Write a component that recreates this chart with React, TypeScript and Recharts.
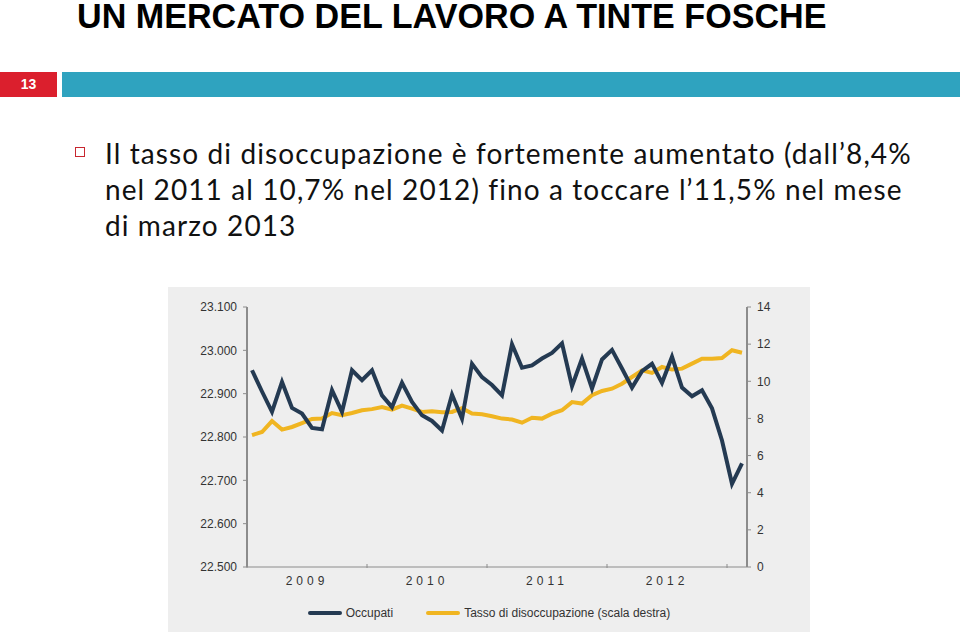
import { Legend, Line, LineChart, XAxis, YAxis } from "recharts";

const months = [
  "gen-09", "feb-09", "mar-09", "apr-09", "mag-09", "giu-09", "lug-09", "ago-09", "set-09", "ott-09", "nov-09", "dic-09",
  "gen-10", "feb-10", "mar-10", "apr-10", "mag-10", "giu-10", "lug-10", "ago-10", "set-10", "ott-10", "nov-10", "dic-10",
  "gen-11", "feb-11", "mar-11", "apr-11", "mag-11", "giu-11", "lug-11", "ago-11", "set-11", "ott-11", "nov-11", "dic-11",
  "gen-12", "feb-12", "mar-12", "apr-12", "mag-12", "giu-12", "lug-12", "ago-12", "set-12", "ott-12", "nov-12", "dic-12",
  "gen-13", "feb-13",
];

// occupati, migliaia
const occupati = [
  22954, 22905, 22858, 22927, 22867, 22854, 22821, 22818, 22908, 22858, 22954, 22931,
  22954, 22896, 22869, 22925, 22881, 22850, 22837, 22815, 22898, 22842, 22969, 22938,
  22920, 22896, 23014, 22960, 22965, 22981, 22994, 23016, 22917, 22981, 22912, 22979,
  23001, 22958, 22914, 22952, 22969, 22925, 22985, 22914, 22894, 22908, 22866, 22792,
  22692, 22739,
];

// tasso di disoccupazione, %
const disoccupazione = [
  7.1, 7.27, 7.86, 7.4, 7.54, 7.75, 7.97, 8.0, 8.29, 8.18, 8.29, 8.44,
  8.5, 8.61, 8.47, 8.69, 8.53, 8.35, 8.38, 8.33, 8.35, 8.55, 8.26, 8.22,
  8.12, 7.99, 7.94, 7.77, 8.04, 7.99, 8.26, 8.44, 8.88, 8.8, 9.25, 9.48,
  9.6, 9.87, 10.23, 10.59, 10.45, 10.77, 10.63, 10.68, 10.95, 11.22, 11.22, 11.25,
  11.67, 11.54,
];

const years = ["2009", "2010", "2011", "2012"];
const leftTicks = [22500, 22600, 22700, 22800, 22900, 23000, 23100];
const rightTicks = [0, 2, 4, 6, 8, 10, 12, 14];

const NAVY = "#243a52";
const GOLD = "#f0b521";
const AXIS = "#8c8c8c";
const TEXT = "#333333";

const data = months.map((m, i) => ({
  m,
  x: i + 0.5,
  occ: occupati[i],
  dis: disoccupazione[i],
}));

// year boundaries (tick marks) and mid-year positions (labels)
const xTicks: number[] = [];
years.forEach((_, i) => {
  xTicks.push(i * 12, i * 12 + 6);
});
xTicks.push(years.length * 12);

const fmtThousands = (v: number) => {
  const s = String(v);
  return s.slice(0, s.length - 3) + "." + s.slice(-3);
};

function YearTick(props: any) {
  const { x, y, payload } = props;
  const v = payload.value as number;
  if (v % 12 === 0) {
    return <line x1={x} x2={x} y1={y - 3} y2={y + 1} stroke={AXIS} strokeWidth={1} />;
  }
  const label = years[Math.floor(v / 12)];
  return (
    <text
      x={x}
      y={y + 18}
      textAnchor="middle"
      fill={TEXT}
      fontSize={12}
      fontFamily="Liberation Sans, Arial, sans-serif"
      letterSpacing={4}
    >
      {label}
    </text>
  );
}

function ChartLegend() {
  const item = (color: string, label: string) => (
    <div style={{ display: "flex", alignItems: "center" }}>
      <div style={{ width: 34, height: 4, borderRadius: 2, background: color, marginRight: 4 }} />
      <span>{label}</span>
    </div>
  );
  return (
    <div
      style={{
        height: 20,
        display: "flex",
        justifyContent: "center",
        alignItems: "center",
        gap: 33,
        fontFamily: "Liberation Sans, Arial, sans-serif",
        fontSize: 12,
        color: TEXT,
      }}
    >
      {item(NAVY, "Occupati")}
      {item(GOLD, "Tasso di disoccupazione (scala destra)")}
    </div>
  );
}

export default function App() {
  return (
    <div
      style={{
        position: "absolute",
        left: 0,
        top: 0,
        width: 960,
        height: 632,
        background: "#ffffff",
        overflow: "hidden",
      }}
    >
      <div
        style={{
          position: "absolute",
          left: 77,
          top: 0,
          fontFamily: "Liberation Sans, Arial, sans-serif",
          fontWeight: 700,
          fontSize: 35,
          lineHeight: "32px",
          color: "#000",
          whiteSpace: "nowrap",
          transform: "scaleX(0.975)",
          transformOrigin: "0 0",
        }}
      >
        UN MERCATO DEL LAVORO A TINTE FOSCHE
      </div>

      <div
        style={{
          position: "absolute",
          left: 0,
          top: 72,
          width: 57,
          height: 25,
          background: "#db1f2d",
          color: "#fff",
          fontFamily: "Liberation Sans, Arial, sans-serif",
          fontWeight: 700,
          fontSize: 14,
          lineHeight: "25px",
          textAlign: "center",
        }}
      >
        13
      </div>
      <div
        style={{ position: "absolute", left: 62, top: 72, width: 898, height: 25, background: "#2fa3bf" }}
      />

      <div
        style={{
          position: "absolute",
          left: 75,
          top: 147,
          width: 10,
          height: 10,
          boxSizing: "border-box",
          border: "1.5px solid #c8262f",
        }}
      />
      <div
        style={{
          position: "absolute",
          left: 105,
          top: 134.5,
          fontFamily: "Lato, sans-serif",
          fontSize: 28,
          letterSpacing: 1.1,
          lineHeight: "36px",
          color: "#111",
          whiteSpace: "nowrap",
        }}
      >
        Il tasso di disoccupazione è fortemente aumentato (dall’8,4%
        <br />
        nel 2011 al 10,7% nel 2012) fino a toccare l’11,5% nel mese
        <br />
        di marzo 2013
      </div>

      <div style={{ position: "absolute", left: 168, top: 287, width: 642, height: 345, background: "#eeeeee" }}>
        <LineChart width={642} height={345} data={data} margin={{ top: 20, right: 0, bottom: 20, left: 0 }}>
          <XAxis
            type="number"
            dataKey="x"
            domain={[0, 50]}
            ticks={xTicks}
            interval={0}
            tick={<YearTick />}
            tickLine={false}
            tickSize={0}
            tickMargin={0}
            axisLine={{ stroke: AXIS, strokeWidth: 1 }}
            height={25}
          />
          <YAxis
            yAxisId="l"
            orientation="left"
            width={79}
            domain={[22500, 23100]}
            ticks={leftTicks}
            interval={0}
            tickFormatter={fmtThousands}
            tick={{ fill: TEXT, fontSize: 12, fontFamily: "Liberation Sans, Arial, sans-serif" }}
            tickLine={{ stroke: AXIS }}
            tickSize={4}
            tickMargin={6}
            axisLine={{ stroke: AXIS, strokeWidth: 2 }}
          />
          <YAxis
            yAxisId="r"
            orientation="right"
            width={63}
            domain={[0, 14]}
            ticks={rightTicks}
            interval={0}
            tick={{ fill: TEXT, fontSize: 12, fontFamily: "Liberation Sans, Arial, sans-serif" }}
            tickLine={{ stroke: AXIS }}
            tickSize={4}
            tickMargin={6}
            axisLine={{ stroke: AXIS, strokeWidth: 2 }}
          />
          <Legend verticalAlign="bottom" content={<ChartLegend />} wrapperStyle={{ bottom: 9 }} />
          <Line
            yAxisId="r"
            type="linear"
            dataKey="dis"
            stroke={GOLD}
            strokeWidth={4}
            dot={false}
            activeDot={false}
            isAnimationActive={false}
          />
          <Line
            yAxisId="l"
            type="linear"
            dataKey="occ"
            stroke={NAVY}
            strokeWidth={4}
            dot={false}
            activeDot={false}
            isAnimationActive={false}
          />
        </LineChart>
      </div>
    </div>
  );
}
